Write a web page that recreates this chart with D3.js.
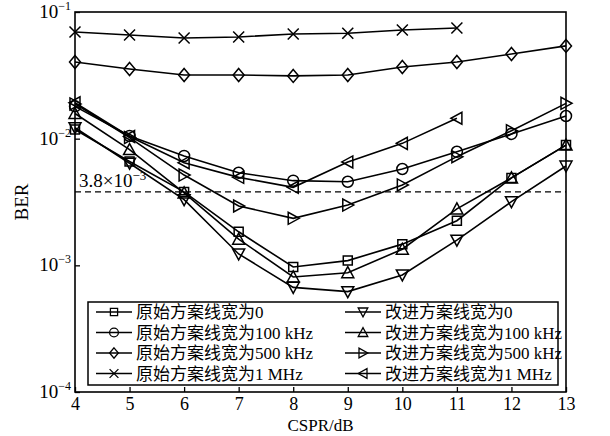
<!DOCTYPE html>
<html>
<head>
<meta charset="utf-8">
<script src="https://cdn.jsdelivr.net/npm/d3@7"></script>
<style>
body { margin: 0; background: #fff; }
svg { display: block; }
</style>
</head>
<body>
<svg id="chart" width="610" height="436"></svg>
<script>
// CSPR values (dB)
var cspr = [4, 5, 6, 7, 8, 9, 10, 11, 12, 13];

// BER per series
var orig0     = [0.0118, 0.0066, 0.0038, 0.00184, 0.00097, 0.00109, 0.00147, 0.00225, 0.0049, 0.0089];
var orig100k  = [0.0180, 0.0105, 0.0073, 0.00538, 0.00466, 0.00457, 0.00576, 0.00788, 0.0109, 0.0151];
var orig500k  = [0.0403, 0.0355, 0.0318, 0.0318, 0.0313, 0.0318, 0.0368, 0.0403, 0.0466, 0.0540];
var orig1M    = [0.0695, 0.0658, 0.0624, 0.0635, 0.0670, 0.0680, 0.0721, 0.0748];
var impr0     = [0.0122, 0.0064, 0.0033, 0.00123, 0.00067, 0.00062, 0.00084, 0.00158, 0.00318, 0.00608];
var impr100k  = [0.0158, 0.0082, 0.00373, 0.00161, 0.00081, 0.000875, 0.00134, 0.00279, 0.0049, 0.0089];
var impr500k  = [0.0188, 0.0102, 0.00516, 0.00294, 0.00235, 0.00299, 0.00431, 0.00721, 0.01156, 0.0190];
var impr1M    = [0.0192, 0.0104, 0.00646, 0.00495, 0.00413, 0.00655, 0.00918, 0.0145];

var legendNames = [
  "原始方案线宽为0", "原始方案线宽为100 kHz", "原始方案线宽为500 kHz", "原始方案线宽为1 MHz",
  "改进方案线宽为0", "改进方案线宽为100 kHz", "改进方案线宽为500 kHz", "改进方案线宽为1 MHz"
];
var markers = ["square", "circle", "diamond", "cross", "tridown", "triup", "triright", "trileft"];
var seriesValues = [orig0, orig100k, orig500k, orig1M, impr0, impr100k, impr500k, impr1M];

var yTicks = [-1, -2, -3, -4];
var threshold = 3.8e-3;

var margin = {top: 12, right: 44, bottom: 44, left: 75};
var width = 610, height = 436;

var svg = d3.select("#chart");
var g = svg.append("g");

var x = d3.scaleLinear().domain([4, 13]).range([margin.left, width - margin.right]);
var y = d3.scaleLog().domain([1e-4, 1e-1]).range([height - margin.bottom, margin.top]);

var serif = "'Liberation Serif', 'Times New Roman', serif";
var cjk = "'Liberation Serif', 'Noto Sans CJK SC', serif";

// marker paths, centred on 0,0
function markerPath(type) {
  switch (type) {
    case "square": return "M-4.5,-4.5H4.5V4.5H-4.5Z";
    case "diamond": return "M0,-6.5L5.5,0L0,6.5L-5.5,0Z";
    case "cross": return "M-5.5,-5.5L5.5,5.5M-5.5,5.5L5.5,-5.5";
    case "tridown": return "M-6,-5H6L0,6Z";
    case "triup": return "M-6,5H6L0,-6Z";
    case "triright": return "M-5,-6V6L6,0Z";
    case "trileft": return "M5,-6V6L-6,0Z";
  }
  return "";
}
function drawMarker(sel, type) {
  if (type === "circle") {
    sel.append("circle").attr("r", 5.5);
  } else {
    sel.append("path").attr("d", markerPath(type));
  }
}

// series lines and markers
var line = d3.line().x(function(d) { return x(d[0]); }).y(function(d) { return y(d[1]); });

seriesValues.forEach(function(vals, i) {
  var pts = vals.map(function(v, j) { return [cspr[j], v]; });
  g.append("path")
    .datum(pts)
    .attr("d", line)
    .attr("fill", "none")
    .attr("stroke", "#000")
    .attr("stroke-width", 1.6);
  pts.forEach(function(p) {
    var m = g.append("g")
      .attr("transform", "translate(" + x(p[0]) + "," + y(p[1]) + ")")
      .attr("fill", "none")
      .attr("stroke", "#000")
      .attr("stroke-width", 1.5);
    drawMarker(m, markers[i]);
  });
});

// threshold line
g.append("line")
  .attr("x1", x(4)).attr("x2", x(13))
  .attr("y1", y(threshold)).attr("y2", y(threshold))
  .attr("stroke", "#000").attr("stroke-width", 1.4)
  .attr("stroke-dasharray", "6,4");

var thr = g.append("text")
  .attr("x", x(4) + 4).attr("y", y(threshold) - 5)
  .attr("font-family", serif).attr("font-size", 19);
thr.append("tspan").text("3.8×10");
thr.append("tspan").attr("dy", -7).attr("font-size", 13).text("−3");

// frame
g.append("rect")
  .attr("x", margin.left).attr("y", margin.top)
  .attr("width", width - margin.left - margin.right)
  .attr("height", height - margin.top - margin.bottom)
  .attr("fill", "none").attr("stroke", "#000").attr("stroke-width", 1.6);

// axes with inward ticks
var xAxis = d3.axisBottom(x).tickValues(cspr).tickSizeInner(-5).tickSizeOuter(0).tickPadding(5);
var ax = g.append("g")
  .attr("transform", "translate(0," + (height - margin.bottom) + ")")
  .call(xAxis);
ax.select(".domain").remove();
ax.selectAll("line").attr("stroke-width", 1.3);
ax.selectAll("text").attr("font-family", serif).attr("font-size", 18).attr("fill", "#000");

var yAxis = d3.axisLeft(y)
  .tickValues(yTicks.map(function(e) { return Math.pow(10, e); }))
  .tickSizeInner(-5).tickSizeOuter(0).tickFormat("");
var ay = g.append("g")
  .attr("transform", "translate(" + margin.left + ",0)")
  .call(yAxis);
ay.select(".domain").remove();
ay.selectAll("line").attr("stroke-width", 1.3);

yTicks.forEach(function(e) {
  var t = g.append("text")
    .attr("x", margin.left - 4).attr("y", y(Math.pow(10, e)) + 6)
    .attr("text-anchor", "end")
    .attr("font-family", serif).attr("font-size", 19).attr("fill", "#000");
  t.append("tspan").text("10");
  t.append("tspan").attr("dy", -8).attr("font-size", 12).text("−" + (-e));
});

// axis titles
g.append("text")
  .attr("x", (x(4) + x(13)) / 2).attr("y", 431)
  .attr("text-anchor", "middle")
  .attr("font-family", serif).attr("font-size", 17)
  .text("CSPR/dB");
g.append("text")
  .attr("transform", "translate(28," + ((y(1e-1) + y(1e-4)) / 2) + ") rotate(-90)")
  .attr("text-anchor", "middle")
  .attr("font-family", serif).attr("font-size", 19)
  .text("BER");

// legend
var lg = g.append("g");
lg.append("rect")
  .attr("x", 88).attr("y", 302).attr("width", 470).attr("height", 83)
  .attr("fill", "#fff").attr("stroke", "#000").attr("stroke-width", 1.5);

legendNames.forEach(function(name, i) {
  var col = Math.floor(i / 4), row = i % 4;
  var lx = col === 0 ? 96 : 345;
  var ly = 312 + row * 20.5;
  var item = lg.append("g").attr("transform", "translate(" + lx + "," + ly + ")");
  item.append("line").attr("x1", 0).attr("x2", 36).attr("y1", 0).attr("y2", 0)
    .attr("stroke", "#000").attr("stroke-width", 1.6);
  var m = item.append("g").attr("transform", "translate(18,0) scale(0.8)")
    .attr("fill", "none").attr("stroke", "#000").attr("stroke-width", 1.6);
  drawMarker(m, markers[i]);
  item.append("text").attr("x", 40).attr("y", 6)
    .attr("font-family", cjk).attr("font-size", 17)
    .text(name);
});
</script>
</body>
</html>
